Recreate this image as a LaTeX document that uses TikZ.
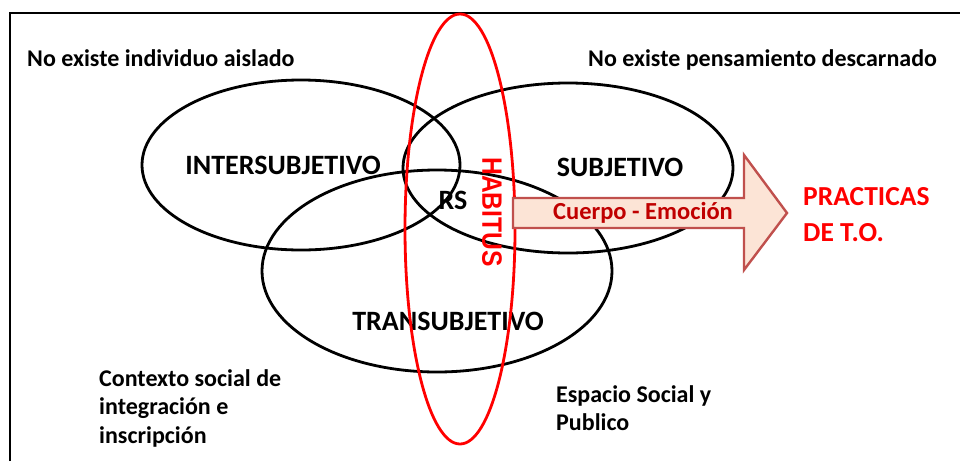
\documentclass[tikz,border=0pt]{standalone}
\usepackage{fontspec}
\setmainfont{Carlito}
\newfontfamily\arialfam{Liberation Sans}
\usepackage{tikz}
\usetikzlibrary{shapes.geometric}
\definecolor{rojo}{RGB}{255,0,0}
\definecolor{vino}{RGB}{192,0,0}
\definecolor{borde}{RGB}{192,80,77}
\definecolor{durazno}{RGB}{252,228,214}
\tikzset{
  elipse/.style={ellipse, draw, line width=2.8pt, inner sep=0pt},
  texto/.style={font=\bfseries\fontsize{24}{28.5}\selectfont, align=left, anchor=west, inner sep=0pt},
  campo/.style={font=\bfseries\fontsize{28}{30}\selectfont, inner sep=0pt}
}
\begin{document}
\begin{tikzpicture}[x=1pt, y=-1pt]
\useasboundingbox (0,0) rectangle (960,461);
\draw[line width=2pt] (10,461)--(10,13)--(960,13);

% los tres campos
\node[elipse, minimum width=318pt, minimum height=170pt] (inter) at (301,165) {};
\node[elipse, minimum width=330pt, minimum height=170pt] (sub) at (568,168) {};
\node[elipse, minimum width=350pt, minimum height=202pt] (trans) at (437,271) {};
\node[campo] (interT) at (283,165) {INTERSUBJETIVO};
\node[campo] (subT) at (620,167) {SUBJETIVO};
\node[campo] (transT) at (448,321) {TRANSUBJETIVO};
\node[campo] (rs) at (453,200) {RS};

% habitus
\node[ellipse, draw=rojo, line width=2.8pt, minimum width=110pt, minimum height=430pt] (hab) at (460,229) {};
\node[font=\arialfam\bfseries\fontsize{28}{30}\selectfont, text=rojo, rotate=-90, inner sep=0pt] (habT) at (492,212) {\scalebox{0.88}[1]{HABITUS}};

% flecha
\coordinate (a1) at (513,198);
\coordinate (a2) at (744,198);
\coordinate (a3) at (744,155);
\coordinate (a4) at (787,213);
\coordinate (a5) at (744,270);
\coordinate (a6) at (744,228);
\coordinate (a7) at (513,228);
\draw[borde, fill=durazno, line width=2.4pt, line join=miter] (a1)--(a2)--(a3)--(a4)--(a5)--(a6)--(a7)--cycle;
\node[font=\bfseries\fontsize{24.5}{28}\selectfont, text=vino, inner sep=0pt] (cuerpo) at (643,213) {Cuerpo - Emoción};
\node[texto, text=rojo, font=\bfseries\fontsize{27.5}{36}\selectfont] (prac) at (803,215) {PRACTICAS\\DE T.O.};

% textos
\node[texto] (t1) at (27,58) {No existe individuo aislado};
\node[texto] (t2) at (588,60) {No existe pensamiento descarnado};
\node[texto] (t3) at (99,408) {Contexto social de\\integración e\\inscripción};
\node[texto] (t4) at (556,408) {Espacio Social y\\Publico};
\end{tikzpicture}
\end{document}
